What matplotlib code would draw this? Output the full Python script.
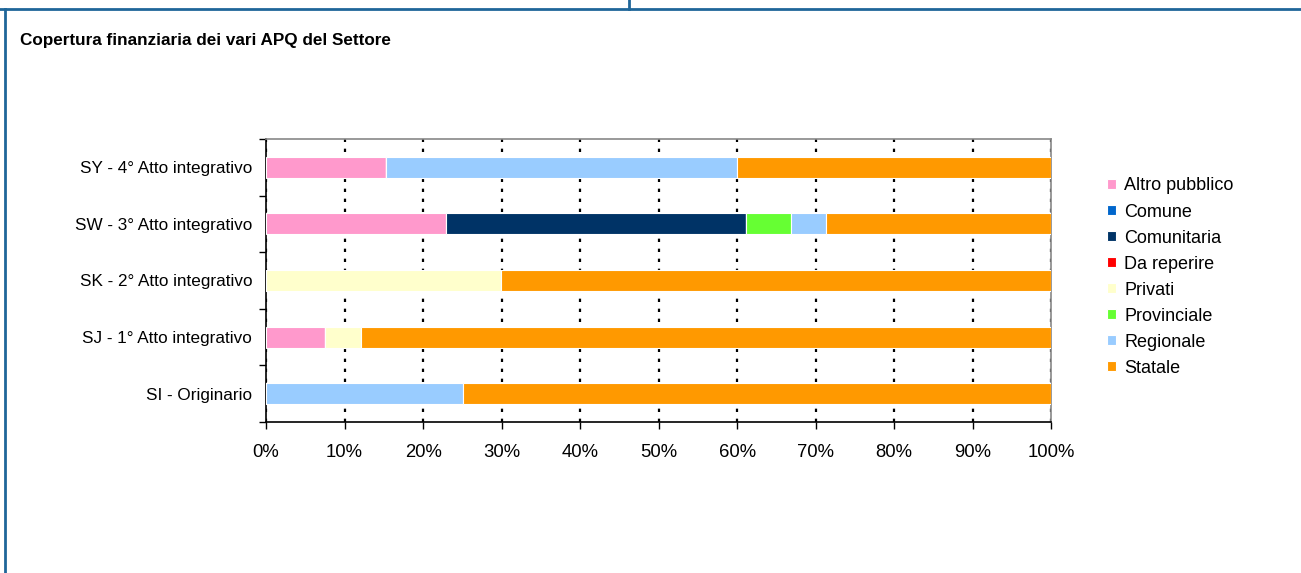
import numpy as np
import matplotlib
matplotlib.use("Agg")
import matplotlib.pyplot as plt
from matplotlib.lines import Line2D
from matplotlib.ticker import MultipleLocator, PercentFormatter

plt.rcParams['font.family'] = ['Liberation Sans', 'DejaVu Sans']

# APQ categories, bottom to top
categories = ["SI - Originario", "SJ - 1° Atto integrativo", "SK - 2° Atto integrativo",
              "SW - 3° Atto integrativo", "SY - 4° Atto integrativo"]

sources = ["Altro pubblico", "Comune", "Comunitaria", "Da reperire",
           "Privati", "Provinciale", "Regionale", "Statale"]
colors = ["#FF99CC", "#0066CC", "#003366", "#FF0000",
          "#FFFFCC", "#66FF33", "#99CCFF", "#FF9900"]

# share (%) of each source, per category (same order as categories)
altro_pubblico = [0.0, 7.5, 0.0, 22.9, 15.3]
comune = [0.0, 0.0, 0.0, 0.0, 0.0]
comunitaria = [0.0, 0.0, 0.0, 38.2, 0.0]
da_reperire = [0.0, 0.0, 0.0, 0.0, 0.0]
privati = [0.0, 4.6, 29.9, 0.0, 0.0]
provinciale = [0.0, 0.0, 0.0, 5.7, 0.0]
regionale = [25.1, 0.0, 0.0, 4.5, 44.7]
statale = [74.9, 87.9, 70.1, 28.7, 40.0]

series = [altro_pubblico, comune, comunitaria, da_reperire,
          privati, provinciale, regionale, statale]

fig = plt.figure(figsize=(13.01, 5.73), dpi=100)
fig.patch.set_facecolor("white")

# panel border lines
border = "#1F6699"
fig.add_artist(Line2D([0.0035, 0.0035], [0, 0.985], color=border, lw=2, transform=fig.transFigure))
fig.add_artist(Line2D([0, 1], [0.985, 0.985], color=border, lw=2, transform=fig.transFigure))
fig.add_artist(Line2D([0.4835, 0.4835], [0.985, 1], color=border, lw=2, transform=fig.transFigure))

fig.text(0.0155, 0.93, "Copertura finanziaria dei vari APQ del Settore",
         fontsize=12.3, fontweight="bold", va="center", ha="left")

ax = fig.add_axes([0.2045, 0.2635, 0.6035, 0.494])
y = np.arange(len(categories))
left = np.zeros(len(categories))
for name, vals, col in zip(sources, series, colors):
    vals = np.array(vals)
    ax.barh(y, vals, left=left, height=0.37, color=col, edgecolor="white",
            linewidth=0.8, label=name, zorder=3)
    left += vals

ax.set_xlim(0, 100)
ax.set_ylim(-0.5, len(categories) - 0.5)
ax.xaxis.set_major_locator(MultipleLocator(10))
ax.xaxis.set_major_formatter(PercentFormatter(decimals=0))
ax.set_yticks(y)
ax.set_yticklabels(categories)
ax.set_yticks(np.arange(-0.5, len(categories)), minor=True)
ax.tick_params(axis="y", which="major", length=0, pad=10, labelsize=12.3)
ax.tick_params(axis="y", which="minor", length=5, width=1, direction="out")
ax.tick_params(axis="x", length=5, width=1, direction="out", pad=11, labelsize=13.3)
ax.grid(axis="x", color="black", linestyle=(0, (1.5, 3)), linewidth=1.6, zorder=1)
for s in ["left", "bottom"]:
    ax.spines[s].set_color("black")
    ax.spines[s].set_linewidth(1.2)
for s in ["top", "right"]:
    ax.spines[s].set_color("#888888")
    ax.spines[s].set_linewidth(1.2)

ax.legend(loc="center left", bbox_to_anchor=(1.071, 0.512), frameon=False,
          fontsize=13, handlelength=0.5, handleheight=0.5, handletextpad=0.45,
          labelspacing=0.5, borderaxespad=0, borderpad=0)

fig.savefig("out.png", dpi=100, facecolor="white")
